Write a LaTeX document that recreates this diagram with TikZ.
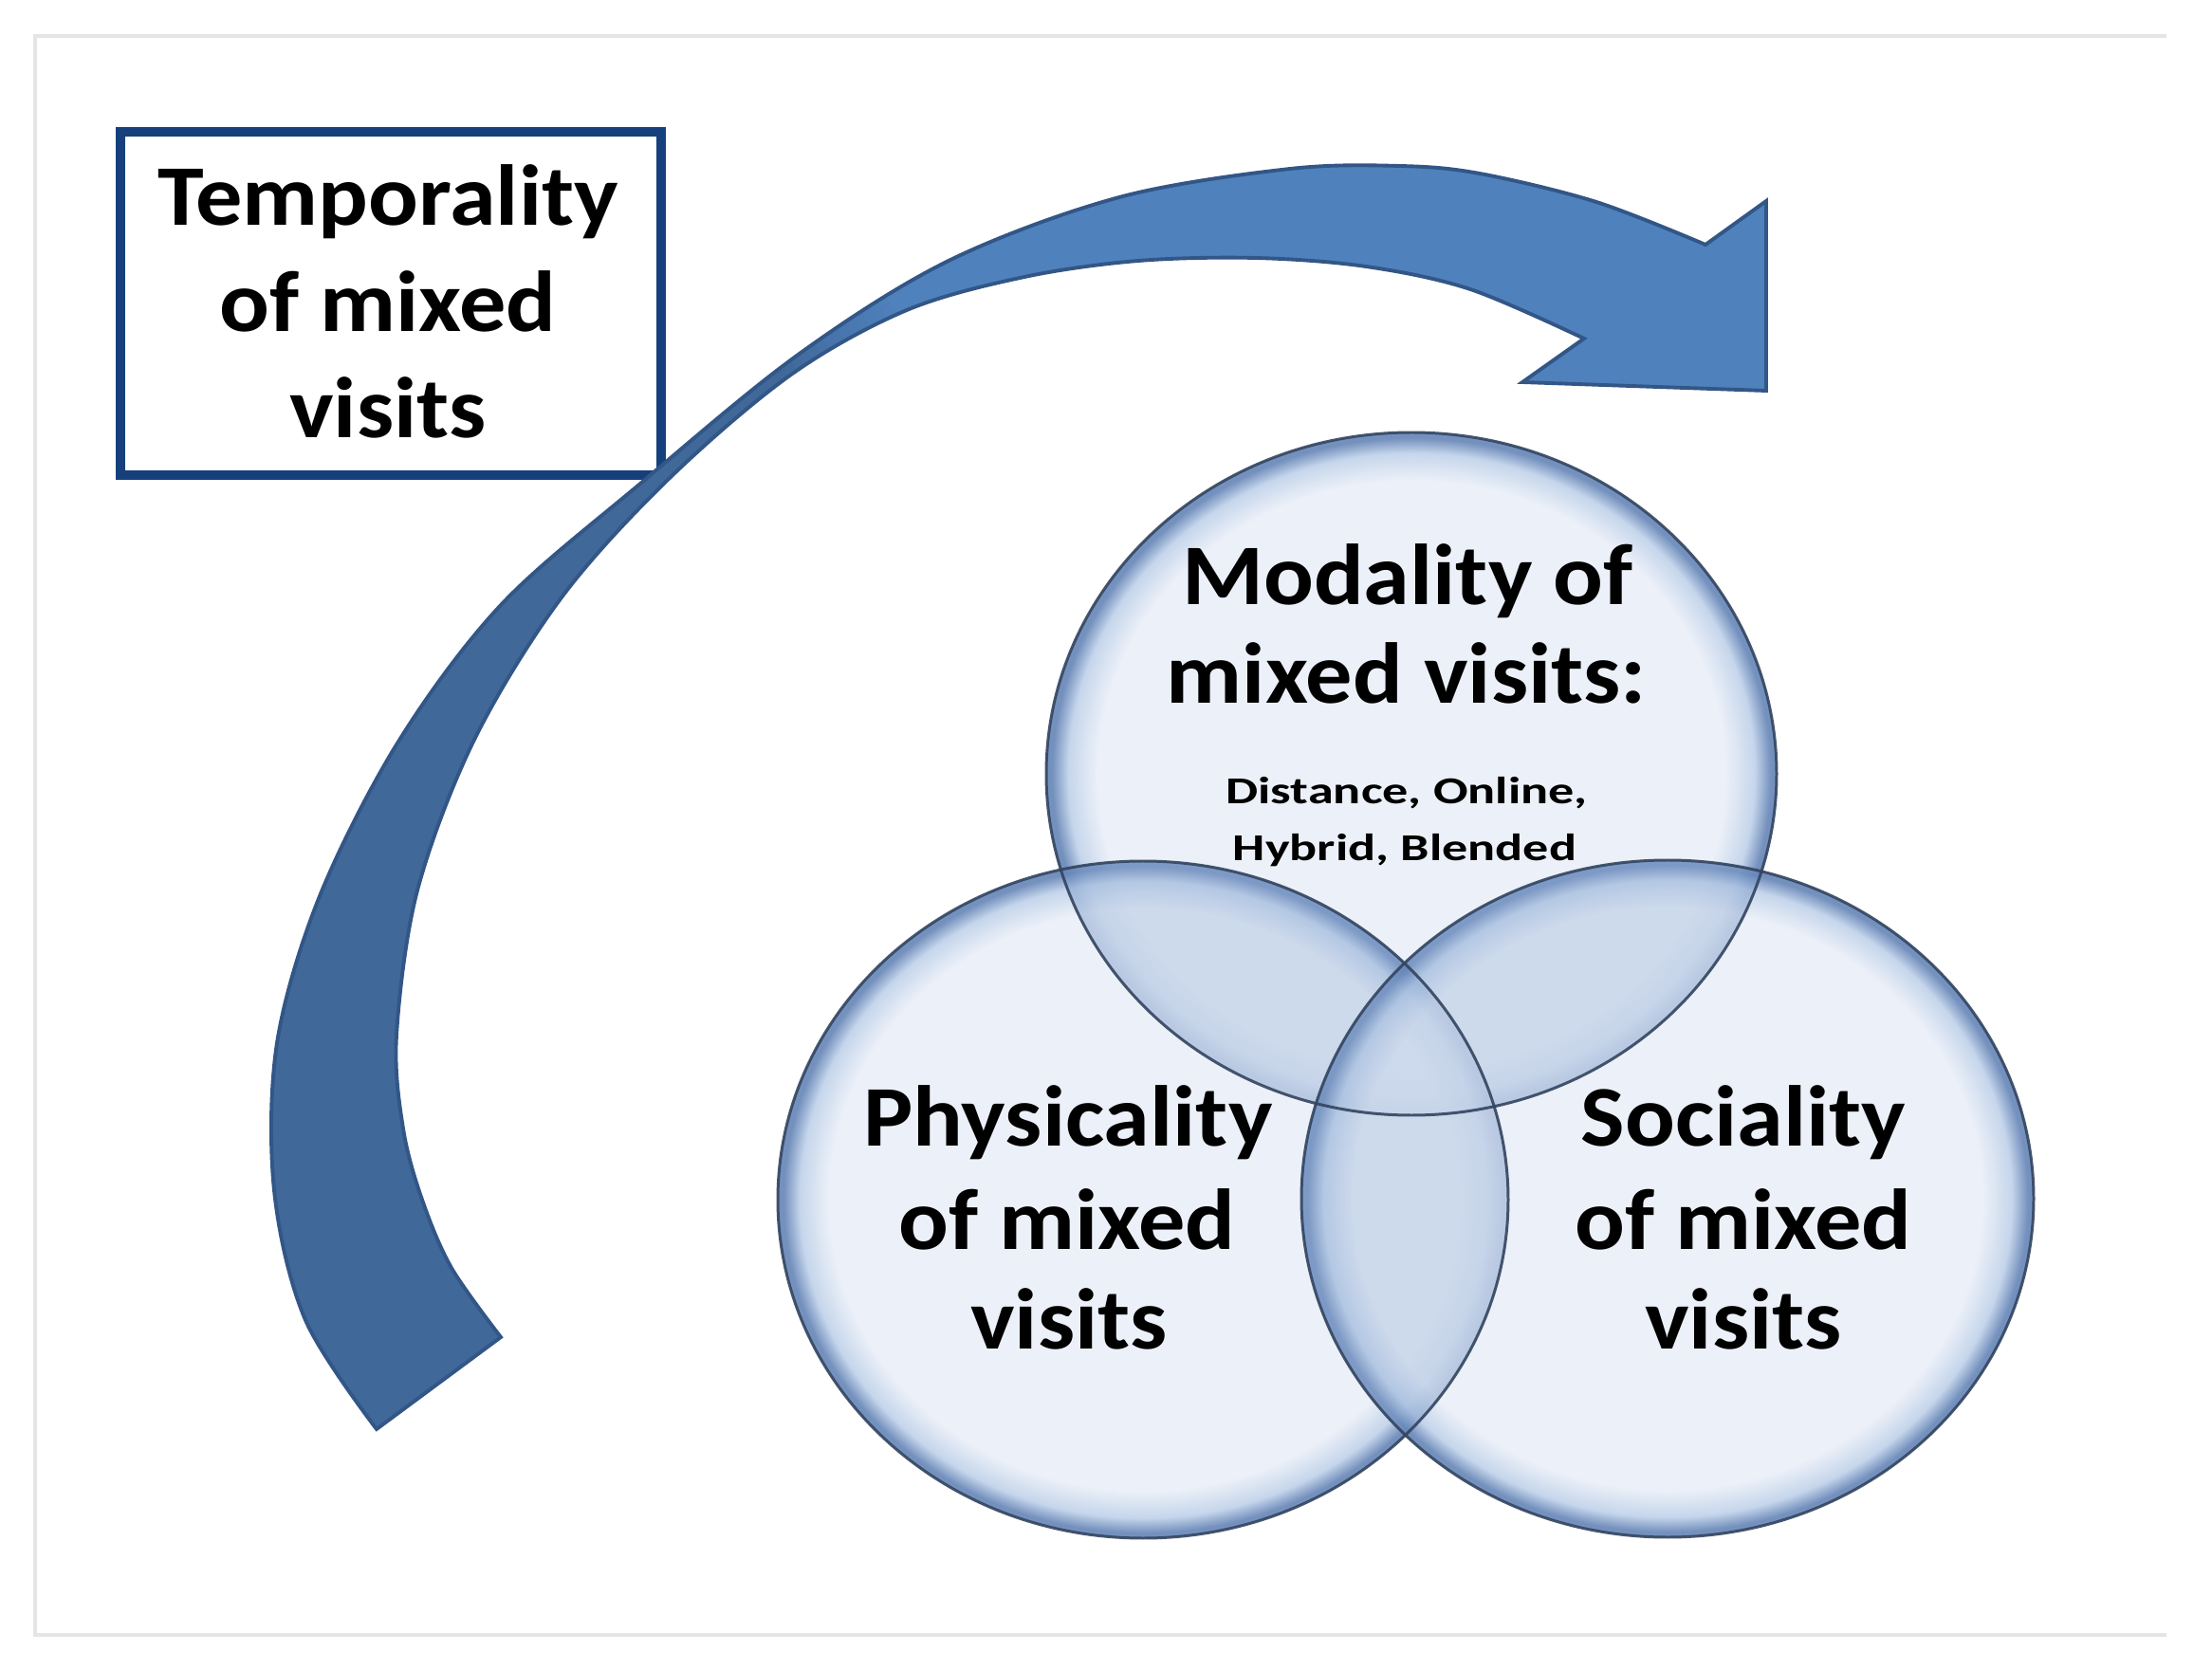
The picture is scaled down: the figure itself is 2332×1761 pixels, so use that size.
\documentclass[tikz,border=0pt]{standalone}
\usepackage{fontspec}
\setmainfont{Carlito}
\usetikzlibrary{shapes.geometric}
\definecolor{framegray}{RGB}{229,229,229}
\definecolor{boxblue}{RGB}{22,64,124}
\definecolor{arrowlt}{RGB}{79,129,189}
\definecolor{arrowdk}{RGB}{64,104,153}
\definecolor{arrowln}{RGB}{50,86,134}
\definecolor{glassA}{RGB}{230,236,246}
\definecolor{glassB}{RGB}{178,200,229}
\definecolor{glassC}{RGB}{70,108,168}
\definecolor{lenstint}{RGB}{155,180,216}
\definecolor{ringline}{RGB}{50,68,95}
\pgfdeclareradialshading{glassshade}{\pgfpoint{0bp}{0bp}}{color(0bp)=(glassA); color(21.5bp)=(glassA); color(23.5bp)=(glassB); color(24.6bp)=(glassC); color(25bp)=(glassC); color(50bp)=(glassC)}
\newcommand\arrowoutline{plot[smooth, tension=0.55] coordinates {(397,1507) (322,1392) (289,1255) (292,1100) (337,945) (420,782) (528,638) (675,510) (840,375) (1000,275) (1180,208) (1360,178) (1476,175) (1560,183) (1683,213) (1798,258)} -- (1862,212) -- (1862,412) -- (1605,403) -- (1670,357) -- plot[smooth, tension=0.55] coordinates {(1670,357) (1550,305) (1440,281) (1324,272) (1200,275) (1080,292) (956,327) (834,395) (705,505) (592,630) (500,780) (440,939) (418,1092) (425,1190) (445,1265) (476,1337) (528,1410)} -- cycle}
\newcommand\topring{(ctop) ellipse [x radius=385, y radius=360]}
\newcommand\leftring{(cleft) ellipse [x radius=385, y radius=357]}
\newcommand\rightring{(cright) ellipse [x radius=386, y radius=357]}
\tikzset{
  bigtxt/.style={font=\fontsize{25.9}{31}\selectfont\bfseries, anchor=base, inner sep=0pt, xscale=1.08},
  smalltxt/.style={font=\fontsize{15.4}{18}\selectfont\bfseries, anchor=base, inner sep=0pt, yscale=0.74},
  ringfill/.style={shading=glassshade, fill opacity=0.75},
  ringdraw/.style={draw=ringline, line width=0.85pt, draw opacity=0.9},
  lens/.style={fill=lenstint, fill opacity=0.33}
}
\begin{document}
\begin{tikzpicture}[x=0.01cm, y=-0.01cm]
\useasboundingbox (0,0) rectangle (2332,1761);
\fill[white] (0,0) rectangle (2332,1761);
% frame
\draw[framegray, line width=1.4pt] (2284,38) -- (37,38) -- (37,1724) -- (2284,1724);
% temporality box
\node (tbox) [draw=boxblue, line width=2.85pt, fill=white, minimum width=5.7cm, minimum height=3.62cm, inner sep=0pt] at (412,320) {};
\node (t1) [bigtxt] at (409,238) {Temporality};
\node (t2) [bigtxt] at (409,350) {of mixed};
\node (t3) [bigtxt] at (409,462) {visits};
% curved arrow
\begin{scope}
  \clip \arrowoutline;
  \begin{scope}[shift={(880,350)}, rotate=31]
    \fill[arrowdk] (-3000,-3000) rectangle (-74,3000);
    \fill[arrowlt] (74,-3000) rectangle (3000,3000);
    \foreach \i in {0,...,14} {
      \pgfmathsetmacro\p{100-\i*100/14}
      \fill[arrowdk!\p!arrowlt] (-75+\i*10,-3000) rectangle (-75+\i*10+10.8,3000);
    }
  \end{scope}
\end{scope}
\draw[arrowln, line width=1.1pt, line join=miter] \arrowoutline;
% venn circles
\coordinate (ctop) at (1488,816);
\coordinate (cleft) at (1205,1265);
\coordinate (cright) at (1758,1264);
\shade[ringfill] \topring;
\shade[ringfill] \leftring;
\shade[ringfill] \rightring;
\begin{scope}
  \clip \topring;
  \fill[lens] \leftring \rightring;
\end{scope}
\begin{scope}
  \clip \leftring;
  \clip \rightring;
  \fill[lens, even odd rule] (0,0) rectangle (2332,1761) \topring;
\end{scope}
\draw[ringdraw] \topring;
\draw[ringdraw] \leftring;
\draw[ringdraw] \rightring;
% texts
\node (m1) [bigtxt] at (1484,638) {Modality of};
\node (m2) [bigtxt] at (1483,742) {mixed visits:};
\node (m3) [smalltxt] at (1483,848) {Distance, Online,};
\node (m4) [smalltxt] at (1481,908) {Hybrid, Blended};
\node (p1) [bigtxt] at (1126,1208) {Physicality};
\node (p2) [bigtxt] at (1125,1317) {of mixed};
\node (p3) [bigtxt] at (1127,1422) {visits};
\node (s1) [bigtxt] at (1838,1208) {Sociality};
\node (s2) [bigtxt] at (1838,1317) {of mixed};
\node (s3) [bigtxt] at (1838,1422) {visits};
\end{tikzpicture}
\end{document}
